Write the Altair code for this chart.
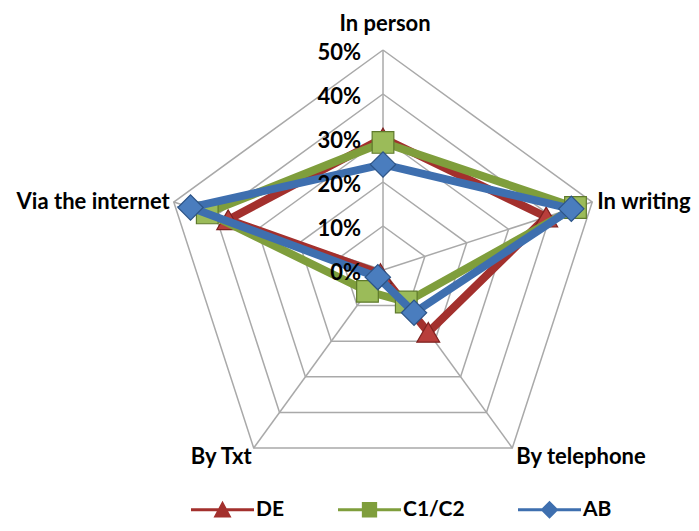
import altair as alt
import pandas as pd

categories = ["In person", "In writing", "By telephone", "By Txt", "Via the internet"]
series_names = ["DE", "C1/C2", "AB"]
de_values = [0.30, 0.39, 0.175, 0.01, 0.37]
c1c2_values = [0.29, 0.46, 0.09, 0.06, 0.42]
ab_values = [0.24, 0.45, 0.12, 0.02, 0.46]
tick_values = [0.0, 0.1, 0.2, 0.3, 0.4, 0.5]
tick_labels = ["0%", "10%", "20%", "30%", "40%", "50%"]

line_colors = ["#A3302D", "#7F9E3C", "#3E6FAF"]
fill_colors = ["#B83E3B", "#9BBB59", "#4A7DBE"]
edge_colors = ["#7E2220", "#5F7A2C", "#2D5487"]
shapes = ["triangle-up", "square", "diamond"]
sizes = [520, 470, 640]

FONT = "Lato"
FS = 22
N = len(categories)

# ---- data tables
rows = []
for s, vals in zip(series_names, [de_values, c1c2_values, ab_values]):
    for i, (c, v) in enumerate(zip(categories, vals)):
        rows.append({"series": s, "category": c, "idx": i, "value": v})
pts = pd.DataFrame(rows)
closing = pts[pts["idx"] == 0].copy()
closing["idx"] = N
line_df = pd.concat([pts, closing], ignore_index=True)

ring_rows = []
for t in tick_values[1:]:
    for i in range(N + 1):
        ring_rows.append({"ring": t, "idx": i, "value": t})
ring_df = pd.DataFrame(ring_rows)
spoke_df = pd.DataFrame({"idx": list(range(N)), "value": [tick_values[-1]] * N})
tick_df = pd.DataFrame({"value": tick_values, "label": tick_labels})
cat_df = pd.DataFrame({"category": categories, "idx": list(range(N)),
                       "value": [tick_values[-1]] * N})

XC = f"datum.value * sin(datum.idx * 2 * PI / {N})"
YC = f"datum.value * cos(datum.idx * 2 * PI / {N})"

xs = alt.Scale(domain=[-0.8523, 0.7], nice=False, zero=False)
ys = alt.Scale(domain=[-0.575, 0.5955], nice=False, zero=False)
X = lambda f="x": alt.X(f"{f}:Q", scale=xs, axis=None)
Y = lambda f="y": alt.Y(f"{f}:Q", scale=ys, axis=None)

color_scale = alt.Scale(domain=series_names, range=line_colors)

rings = alt.Chart(ring_df).mark_line(color="#A9A9A9", strokeWidth=1.5).transform_calculate(
    x=XC, y=YC).encode(x=X(), y=Y(), detail="ring:N", order="idx:Q")

spokes = alt.Chart(spoke_df).mark_rule(color="#A9A9A9", strokeWidth=1.5).transform_calculate(
    x=XC, y=YC, z="0").encode(x=X(), y=Y(), x2="z:Q", y2="z:Q")

ticks = alt.Chart(tick_df).mark_text(font=FONT, fontSize=FS, fontWeight="bold", align="right",
                                     baseline="middle", dx=-22, dy=3, color="black").encode(
    x=alt.X("zero:Q", scale=xs, axis=None), y=alt.Y("value:Q", scale=ys, axis=None), text="label:N"
).transform_calculate(zero="0")

layers = [rings, spokes]

for k, s in enumerate(series_names):
    ln = alt.Chart(line_df).transform_filter(alt.datum.series == s).transform_calculate(
        x=XC, y=YC).mark_line(strokeWidth=8, color=line_colors[k], strokeJoin="miter").encode(
        x=X(), y=Y(), order="idx:Q")
    mk = alt.Chart(pts).transform_filter(alt.datum.series == s).transform_calculate(
        x=XC, y=YC).mark_point(shape=shapes[k], size=sizes[k], filled=True, opacity=1,
                               fill=fill_colors[k], stroke=edge_colors[k], strokeWidth=1.2).encode(
        x=X(), y=Y())
    layers += [ln, mk]

layers.append(ticks)

label_style = {
    "In person": dict(align="center", dx=2, dy=-26),
    "In writing": dict(align="left", dx=5, dy=0),
    "By telephone": dict(align="left", dx=4, dy=9),
    "By Txt": dict(align="right", dx=-2, dy=9),
    "Via the internet": dict(align="right", dx=-4, dy=0),
}
for c in categories:
    st = label_style[c]
    layers.append(
        alt.Chart(cat_df).transform_filter(alt.datum.category == c).transform_calculate(
            x=XC, y=YC).mark_text(font=FONT, fontSize=FS, fontWeight="bold", baseline="middle",
                                  color="black", **st).encode(x=X(), y=Y(), text="category:N"))

# legend symbols: line segment + marker (custom paths)
p_line = "M-3.5,-0.17L3.5,-0.17L3.5,0.17L-3.5,0.17Z"
legend_paths = [
    p_line + "M0,-1L1,0.85L-1,0.85Z",
    p_line + "M-0.85,-0.85L0.85,-0.85L0.85,0.85L-0.85,0.85Z",
    p_line + "M0,-1L1,0L0,1L-1,0Z",
]
leg = dict(title=None, orient="none", direction="horizontal",
           legendX=204, legendY=491, symbolSize=324,
           symbolOpacity=1, symbolStrokeWidth=0,
           labelOffset=23, columnPadding=53, padding=0,
           labelFont=FONT, labelFontSize=21, labelFontWeight="bold",
           labelColor="black")
legend_layer = alt.Chart(pts).transform_calculate(x=XC, y=YC).mark_point(
    filled=True, opacity=0).encode(
    x=X(), y=Y(),
    color=alt.Color("series:N", scale=color_scale, sort=series_names, legend=alt.Legend(**leg)),
    shape=alt.Shape("series:N", scale=alt.Scale(domain=series_names, range=legend_paths),
                    sort=series_names, legend=alt.Legend(**leg)),
)
layers.append(legend_layer)

chart = alt.layer(*layers).properties(
    width=683, height=515, autosize=alt.AutoSizeParams(type="none"), padding=0,
    background="white"
).configure_view(stroke=None)

chart.save("out.html", embed_options={"renderer": "svg", "actions": False})
